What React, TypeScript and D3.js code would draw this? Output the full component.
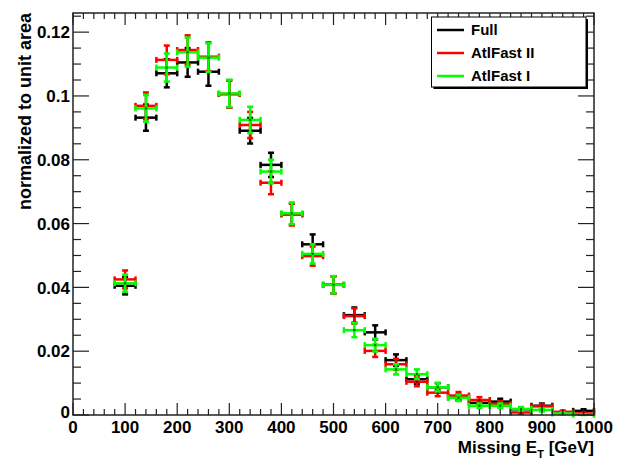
import React from "react";
import * as d3 from "d3";

const bins = [100, 140, 180, 220, 260, 300, 340, 380, 420, 460, 500, 540, 580, 620, 660, 700, 740, 780, 820, 860, 900, 940, 980];
const full = [0.0405, 0.0932, 0.1071, 0.1105, 0.1076, 0.1006, 0.0891, 0.0784, 0.0630, 0.0535, 0.0408, 0.0313, 0.0259, 0.0172, 0.0112, 0.0087, 0.0055, 0.0038, 0.0042, 0.0018, 0.0029, 0.0008, 0.0013];
const fast2 = [0.0425, 0.0969, 0.1113, 0.1144, 0.1123, 0.1006, 0.0909, 0.0728, 0.0628, 0.0498, 0.0408, 0.0310, 0.0201, 0.0159, 0.0104, 0.0070, 0.0061, 0.0047, 0.0035, 0.0008, 0.0027, 0.0010, 0.0005];
const fast1 = [0.0413, 0.0961, 0.1089, 0.1137, 0.1120, 0.1008, 0.0925, 0.0763, 0.0632, 0.0505, 0.0408, 0.0266, 0.0219, 0.0143, 0.0128, 0.0087, 0.0054, 0.0029, 0.0029, 0.0019, 0.0016, 0.0005, 0.0001];
const fullErr = [0.0027, 0.0041, 0.0044, 0.0045, 0.0044, 0.0043, 0.0040, 0.0038, 0.0034, 0.0031, 0.0027, 0.0024, 0.0022, 0.0018, 0.0014, 0.0013, 0.0010, 0.0008, 0.0009, 0.0006, 0.0007, 0.0004, 0.0005];
const fast2Err = [0.0028, 0.0042, 0.0045, 0.0046, 0.0045, 0.0043, 0.0041, 0.0036, 0.0034, 0.0030, 0.0027, 0.0024, 0.0019, 0.0017, 0.0014, 0.0011, 0.0011, 0.0009, 0.0008, 0.0004, 0.0007, 0.0004, 0.0003];
const fast1Err = [0.0027, 0.0042, 0.0044, 0.0046, 0.0045, 0.0043, 0.0041, 0.0037, 0.0034, 0.0030, 0.0027, 0.0022, 0.0020, 0.0016, 0.0015, 0.0013, 0.0010, 0.0007, 0.0007, 0.0006, 0.0005, 0.0003, 0.0001];
const binHalfWidth = 20;

const seriesNames = ["Full", "AtlFast II", "AtlFast I"];
const seriesColors = ["#000000", "#ff0000", "#00ff00"];
const seriesValues = [full, fast2, fast1];
const seriesErrors = [fullErr, fast2Err, fast1Err];

const yTickValues = [0, 0.02, 0.04, 0.06, 0.08, 0.1, 0.12];
const yTickLabels = ["0", "0.02", "0.04", "0.06", "0.08", "0.1", "0.12"];
const xTickValues = [0, 100, 200, 300, 400, 500, 600, 700, 800, 900, 1000];

const W = 625, H = 461;
const L = 73, R = 594, T = 13, B = 415;
const FONT = "'Liberation Sans', Arial, Helvetica, sans-serif";

export default function App() {
  const x = d3.scaleLinear().domain([0, 1000]).range([L, R]);
  const y = d3.scaleLinear().domain([0, 0.126]).range([B, T]);

  const xMinor = d3.range(0, 1000.1, 20);
  const yMinor = d3.range(0, 0.1261, 0.005);
  const axisColor = "#222";
  const cap = 3;

  const points = seriesValues.map((vals, si) => (
    <g key={si} stroke={seriesColors[si]} strokeWidth={2.5} fill="none">
      {bins.map((b, i) => {
        const cx = x(b);
        const cy = y(vals[i]);
        const x0 = x(b - binHalfWidth);
        const x1 = x(b + binHalfWidth);
        const yt = y(Math.min(vals[i] + seriesErrors[si][i], 0.126));
        const yb = y(Math.max(vals[i] - seriesErrors[si][i], 0));
        return (
          <g key={i}>
            <line x1={x0} x2={x1} y1={cy} y2={cy} />
            <line x1={x0} x2={x0} y1={cy - cap} y2={cy + cap} />
            <line x1={x1} x2={x1} y1={cy - cap} y2={cy + cap} />
            <line x1={cx} x2={cx} y1={yt} y2={yb} />
            <line x1={cx - cap} x2={cx + cap} y1={yt} y2={yt} />
            <line x1={cx - cap} x2={cx + cap} y1={yb} y2={yb} />
            <rect x={cx - 1} y={cy - 1} width={2} height={2} fill="#000" stroke="none" opacity={0.6} />
          </g>
        );
      })}
    </g>
  ));

  const legX = 431.5, legY = 17, legW = 154.5, legH = 70;
  const legRows = [30, 53, 76];

  return (
    <svg width={W} height={H} style={{ position: "absolute", left: 0, top: 0, background: "#fff" }} fontFamily={FONT}>
      <rect x={0} y={0} width={W} height={H} fill="#fff" />
      {points}
      {/* frame */}
      <rect x={L} y={T} width={R - L} height={B - T} fill="none" stroke={axisColor} strokeWidth={1.5} />
      {/* x ticks bottom & top */}
      {xMinor.map((v, i) => {
        const major = Math.round(v) % 100 === 0;
        const len = major ? 12 : 6;
        return (
          <g key={"xt" + i} stroke={axisColor} strokeWidth={1.2}>
            <line x1={x(v)} x2={x(v)} y1={B} y2={B - len} />
            <line x1={x(v)} x2={x(v)} y1={T} y2={T + len} />
          </g>
        );
      })}
      {yMinor.map((v, i) => {
        const major = i % 4 === 0;
        const len = major ? 16 : 8;
        return (
          <g key={"yt" + i} stroke={axisColor} strokeWidth={1.2}>
            <line x1={L} x2={L + len} y1={y(v)} y2={y(v)} />
            <line x1={R} x2={R - len} y1={y(v)} y2={y(v)} />
          </g>
        );
      })}
      {/* y labels */}
      {yTickValues.map((v, i) => (
        <text key={"yl" + i} x={70} y={y(v) - (v === 0 ? 3 : 0)} dy="0.36em" textAnchor="end" fontSize={17} fontWeight="bold" fill="#000">
          {yTickLabels[i]}
        </text>
      ))}
      {/* x labels */}
      {xTickValues.map((v, i) => (
        <text key={"xl" + i} x={x(v)} y={433} textAnchor="middle" fontSize={17} fontWeight="bold" fill="#000">
          {String(v)}
        </text>
      ))}
      {/* axis titles */}
      <text x={R} y={453} textAnchor="end" fontSize={17} fontWeight="bold" fill="#000">
        Missing E<tspan fontSize={11} dy={5}>T</tspan><tspan dy={-5}> [GeV]</tspan>
      </text>
      <text transform={`translate(31, ${T}) rotate(-90)`} textAnchor="end" fontSize={18} fontWeight="bold" fill="#000">
        normalized to unit area
      </text>
      {/* legend */}
      <rect x={legX + 2} y={legY + 2} width={legW} height={legH} fill="#000" />
      <rect x={legX} y={legY} width={legW} height={legH} fill="#fff" stroke="#000" strokeWidth={1} />
      {seriesNames.map((n, i) => (
        <g key={"lg" + i}>
          <line x1={437} x2={464} y1={legRows[i]} y2={legRows[i]} stroke={seriesColors[i]} strokeWidth={2.5} />
          <text x={471} y={legRows[i]} dy="0.36em" fontSize={15} fontWeight="bold" fill="#000">{n}</text>
        </g>
      ))}
    </svg>
  );
}
